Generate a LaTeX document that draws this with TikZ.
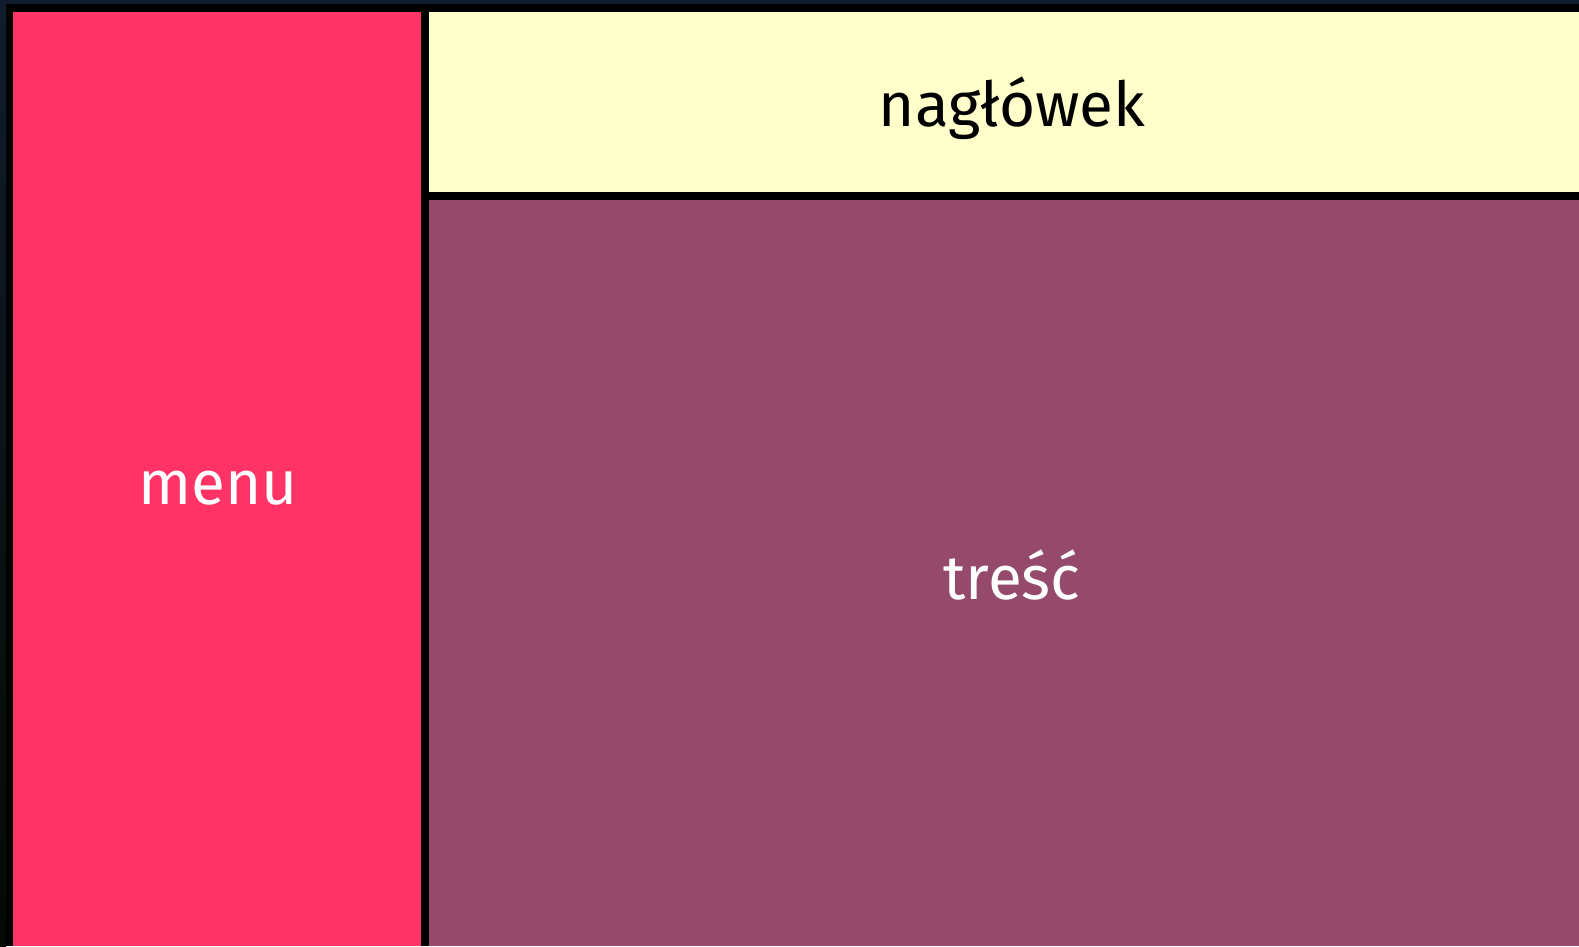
\documentclass[tikz,border=0pt]{standalone}
\usepackage{fontspec}
\setmainfont{Fira Sans}
\definecolor{menured}{HTML}{FF3366}
\definecolor{headyellow}{HTML}{FFFFCC}
\definecolor{contentpurple}{HTML}{954A6B}
\definecolor{edgenavy}{HTML}{111C2E}
\definecolor{edgedark}{HTML}{040A02}
\begin{document}
\begin{tikzpicture}[x=1pt,y=1pt,
  panel/.style={draw=none,inner sep=0pt,outer sep=0pt,anchor=center},
  lbl/.style={font=\fontsize{62}{70}\selectfont,inner sep=0pt,anchor=base}]
\useasboundingbox (0,0) rectangle (1579,946);
\fill[black] (0,0) rectangle (1579,946);
\shade[top color=edgenavy,bottom color=edgedark] (0,0) rectangle (6,946);
\fill[edgenavy] (0,942) rectangle (1579,946);
\node[panel,fill=menured,minimum width=408pt,minimum height=934pt] (menu) at (217,467) {};
\node[panel,fill=headyellow,minimum width=1150pt,minimum height=180pt] (head) at (1004,844) {};
\node[panel,fill=contentpurple,minimum width=1150pt,minimum height=746pt] (content) at (1004,373) {};
\node[lbl,text=white] (menulbl) at (218,441) {menu};
\node[lbl,text=black] (headlbl) at (1012,819) {nagłówek};
\node[lbl,text=white] (contentlbl) at (1012,346) {treść};
\end{tikzpicture}
\end{document}
